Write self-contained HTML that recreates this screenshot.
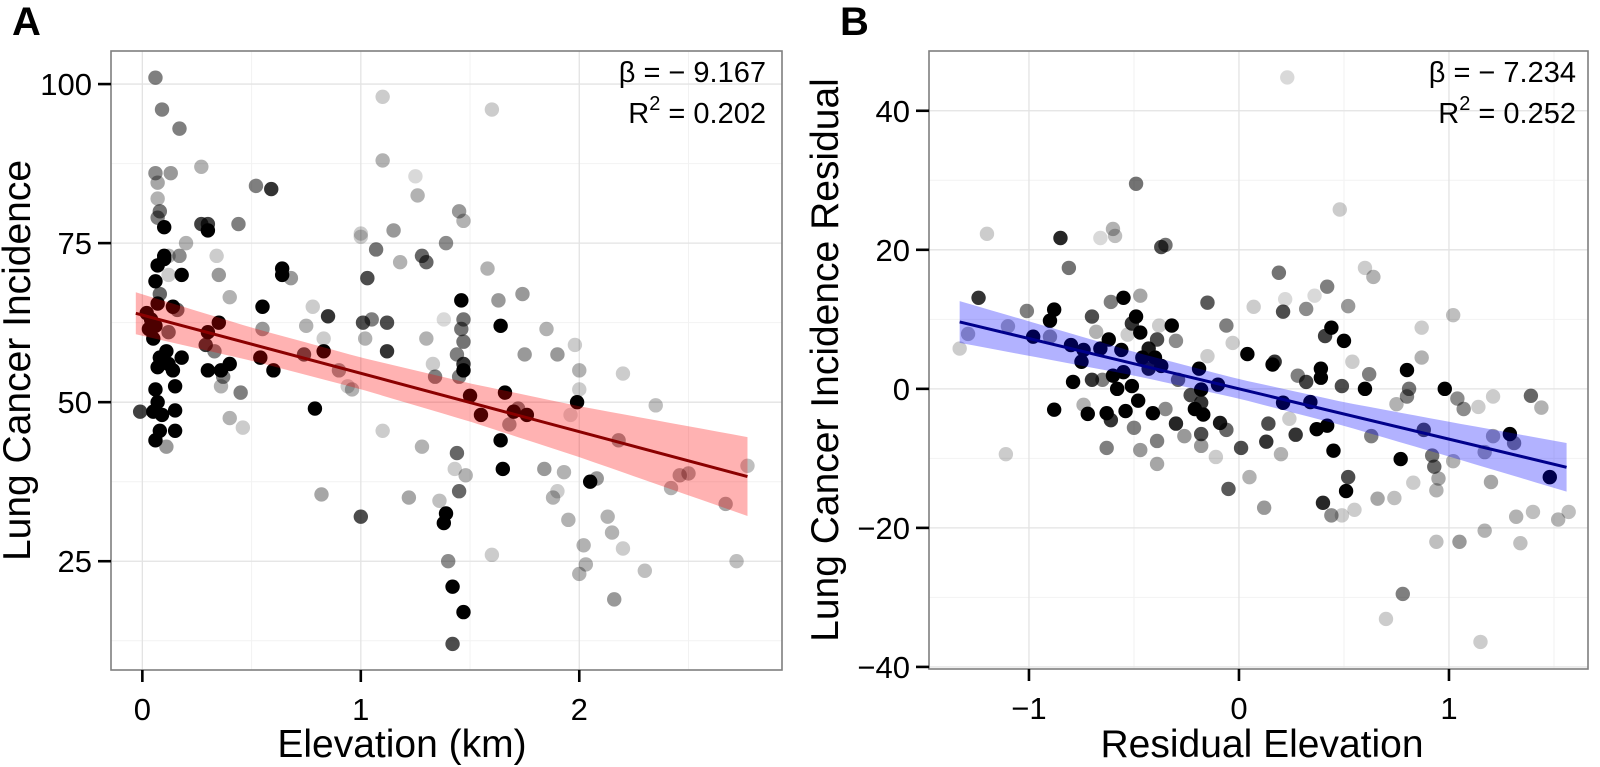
<!DOCTYPE html>
<html><head><meta charset="utf-8">
<style>
html,body{margin:0;padding:0;background:#fff;}
svg{display:block;font-family:"Liberation Sans",Arial,sans-serif;}
</style></head>
<body>
<svg id="fig" width="1600" height="767" viewBox="0 0 1600 767" xmlns="http://www.w3.org/2000/svg"></svg>
<script>
// ---------- Panel A data ----------
const aX=[0.06,0.09,0.17,0.06,0.13,0.07,0.07,0.08,0.07,0.1,0.12,0.1,0.1,0.07,0.06,0.08,0.07,0.12,0.16,0.02,0.04,0.06,0.03,0.12,0.05,0.11,0.08,0.07,0.12,0.06,0.07,0.05,0.09,-0.01,0.15,0.08,0.06,0.15,0.11,0.18,0.18,0.15,0.14,0.14,0.2,0.17,
0.27,0.3,0.3,0.34,0.27,0.44,0.52,0.59,0.35,0.4,0.3,0.35,0.3,0.36,0.4,0.33,0.4,0.29,0.37,0.36,0.45,0.46,0.55,0.54,0.55,0.6,0.64,0.64,0.68,0.79,0.75,0.74,0.83,0.83,0.85,0.82,0.9,0.78,0.94,0.96,
1.03,1.01,1.0,1.0,1.02,1.07,1.05,1.12,1.12,1.1,1.1,1.15,1.0,1.1,1.18,1.22,1.25,1.26,1.28,1.3,1.3,1.28,1.33,1.34,1.36,1.39,1.38,1.38,1.39,1.4,1.42,1.47,1.42,1.44,1.46,1.46,1.47,1.47,1.45,1.47,1.45,1.47,1.44,1.45,1.43,1.48,1.5,1.47,1.55,1.58,1.6,1.6,1.63,1.64,1.66,1.64,1.65,1.68,1.7,1.72,1.74,1.76,1.75,1.85,1.9,1.98,1.93,1.96,2.0,2.0,1.84,1.99,1.88,1.95,2.0,2.02,2.03,2.05,2.08,2.15,2.16,2.13,2.18,2.2,2.2,2.3,2.35,2.42,2.46,2.5,2.67,2.77,2.72,1.9];
const aY=[101,96,93,86,86,84.5,82,80,79,77.5,73,73,72.5,71.5,69,67,65.5,70,64.5,64,63,62,61.5,61,60,58,57,55.5,56,52,50,48.5,48,48.5,48.7,45.5,44,45.5,43,70,57,52.5,55,65,75,73,
87,78,77,73,78,78,84,83.5,70,66.5,61,62.5,55,55,56,58,47.5,59,54,52.5,51.5,46,65,57,61.5,55,70,71,69.5,49,62,57.5,60,58,63.5,35.5,55,65,52.5,52,
69.5,62.5,76,76.5,60,74,63,62.5,58,98,88,77,32,45.5,72,35,85.5,82.5,73,72,60,43,56,54,34.5,75,63,31,32.5,25,21,17,12,57.5,66,61.5,63,59.5,80,78.5,54,56,42,36,39.5,38.5,51,55,48,71,96,26,66,62,51.5,44,39.5,46.5,48.5,49,67,48,57.5,61.5,57.5,59,39,48,52,55,39.5,50,35,31.5,23,27.5,24.5,37.5,38,29.5,19,32,44,54.5,27,23.5,49.5,36.5,38.5,38.8,34,40,25,36];
const aAlpha=[.5,.5,.5,.45,.4,.35,.3,.55,.5,1,.3,1,1,1,1,.6,1,.2,.6,1,1,1,1,.6,1,1,1,1,1,1,1,1,1,.75,1,1,1,1,.4,1,1,1,1,1,.3,.45,
.3,.75,1,.2,.75,.5,.5,.8,.4,.3,1,1,1,1,1,.5,.3,.8,.5,.3,.5,.2,1,1,.4,1,1,1,.4,1,.3,.7,.2,1,.8,.35,.4,.2,.2,.3,
.7,.7,.2,.2,.3,.55,.5,.7,.8,.2,.3,.4,.7,.2,.3,.35,.15,.3,.6,.6,.3,.3,.2,.5,.25,.45,.15,1,1,.45,1,1,.7,.5,1,.55,.55,.55,.4,.3,.5,.8,.6,.6,.2,.3,1,1,1,.3,.2,.2,.4,1,1,1,1,.4,1,.5,.4,1,.4,.3,.4,.2,.3,.15,.2,.3,.4,1,.3,.3,.3,.3,.3,1,.4,.3,.4,.3,.4,.2,.2,.25,.25,.3,.35,.35,.35,.25,.25,.2];
const aSlope=-9.167, aIntercept=63.7, aFitRange=[-0.03,2.77];
const aBandX=[-0.03,0.5,1.0,1.5,2.0,2.77];
const aBandHalf=[3.3,2.6,2.5,3.0,4.0,6.2];
const aXTicks=[0,1,2], aXTickLabels=["0","1","2"];
const aYTicks=[25,50,75,100], aYTickLabels=["25","50","75","100"];

// ---------- Panel B data ----------
const bX=[-1.33,-1.29,-1.24,-1.2,-1.11,-1.1,-1.01,-0.98,-0.9,-0.88,-0.9,-0.88,-0.85,-0.81,-0.8,-0.79,-0.75,-0.74,-0.74,-0.72,-0.7,-0.7,-0.68,-0.66,-0.66,-0.65,-0.63,-0.63,-0.62,-0.61,-0.6,-0.59,-0.61,-0.6,-0.58,-0.56,-0.55,-0.55,-0.54,-0.53,-0.51,-0.5,-0.49,-0.51,-0.49,-0.47,-0.47,-0.48,-0.47,-0.46,-0.43,-0.43,-0.41,-0.4,-0.39,-0.39,-0.39,-0.38,-0.37,-0.37,-0.35,-0.35,-0.32,-0.3,-0.3,-0.29,-0.26,-0.23,-0.21,-0.19,-0.18,-0.18,-0.18,-0.17,-0.15,-0.15,-0.18,
0.23,0.48,0.19,-0.06,-0.03,0.07,0.21,0.22,0.32,0.36,0.42,0.52,0.6,0.64,1.02,0.87,0.04,-0.1,-0.09,-0.06,-0.11,-0.05,0.01,0.05,0.12,0.13,0.14,0.16,0.17,0.2,0.21,0.24,0.27,0.28,0.32,0.34,0.37,0.39,0.39,0.42,0.41,0.44,0.45,0.5,0.52,0.51,0.4,0.44,0.49,0.55,0.54,0.49,0.6,0.62,0.63,0.66,0.7,0.78,0.74,0.77,0.75,0.8,0.81,0.8,0.87,0.88,0.92,0.93,0.95,0.94,0.83,0.94,1.05,0.98,1.04,1.07,1.14,1.02,1.17,1.2,1.21,1.21,1.29,1.31,1.39,1.44,1.48,1.17,1.32,1.4,1.34,1.15,1.52,1.57];
const bY=[5.8,7.9,13.1,22.3,-9.4,9.0,11.2,7.5,9.8,11.4,7.5,-3.0,21.7,17.4,6.3,1.0,3.9,5.6,-2.3,-3.6,1.3,10.4,8.2,21.7,5.8,1.3,-3.5,-8.5,7.1,12.5,23.0,22.0,-4.5,1.9,0,5.6,2.4,13.1,-3.2,7.8,0.4,-5.6,10.4,9.4,29.5,13.4,8.1,-1.7,-8.8,4.5,2.9,5.8,-3.5,4.5,-10.8,-7.5,7.1,9.1,3.3,20.4,20.7,-2.9,9.1,-5.0,6.9,1.3,-6.8,-0.9,-2.9,2.9,-2.0,-0.1,-6.5,-3.7,12.4,4.7,-8.2,
44.8,25.8,16.7,9.1,6.6,11.8,11.1,12.9,11.5,13.4,14.7,11.9,17.4,16.1,10.6,8.8,5.0,0.6,-4.9,-5.9,-9.8,-14.4,-8.5,-12.7,-17.1,-7.6,-5.0,3.5,3.9,-9.4,-2.0,-4.3,-6.6,1.9,1.0,-1.9,-5.8,2.9,1.6,-5.3,7.6,8.8,-8.9,6.9,-12.7,-14.7,-16.4,-18.2,-18.2,-17.4,3.9,0.4,0,2.1,-6.8,-15.8,-33.1,-29.5,-15.7,-10.1,-2.2,2.7,0,-1.1,4.5,-5.9,-9.6,-11.2,-12.9,-14.6,-13.5,-22.0,-22.0,0,-1.4,-2.9,-2.6,-10.4,-9.1,-13.4,-6.8,-1.1,-6.5,-7.8,-1.0,-2.7,-12.7,-20.4,-18.4,-17.7,-22.2,-36.4,-18.8,-17.7];
const bAlpha=[.2,.3,.8,.2,.2,.3,.5,1,1,1,.4,1,.85,.55,1,1,1,1,.3,1,.8,.7,.3,.15,1,.5,1,.5,1,.5,.3,.25,.8,1,1,1,1,1,1,.2,1,.5,1,.8,.55,.35,1,1,.4,1,.9,.9,1,1,.35,.5,.7,.2,1,.7,.55,.45,1,.85,.45,.6,.4,.7,1,1,.8,1,.7,1,.65,.2,.4,
.15,.2,.55,.5,.2,.2,.7,.15,.45,.15,.5,.4,.2,.3,.25,.2,1,1,.9,.6,.2,.65,.7,.3,.4,.8,.7,1,.8,.3,1,.2,.8,.5,.75,1,1,1,1,1,.75,1,1,1,.7,1,.85,.45,.2,.2,.2,.7,1,.5,.5,.35,.2,.5,.25,1,.3,1,.55,.5,.3,.7,.55,.6,.35,.3,.2,.25,.4,1,.45,.45,.2,.3,.35,.35,.35,.2,1,.5,.6,.3,1,.3,.3,.25,.25,.2,.3,.25];
const bSlope=-7.234, bIntercept=0.0, bFitRange=[-1.33,1.56];
const bBandX=[-1.33,-0.5,0,0.5,1.0,1.56];
const bBandHalf=[3.0,1.7,1.4,1.7,2.5,3.5];
const bXTicks=[-1,0,1], bXTickLabels=["\u22121","0","1"];
const bYTicks=[-40,-20,0,20,40], bYTickLabels=["\u221240","\u221220","0","20","40"];

const NS="http://www.w3.org/2000/svg";
const svg=document.getElementById('fig');
function mk(tag,attrs,parent){const e=document.createElementNS(NS,tag);for(const k in attrs)e.setAttribute(k,attrs[k]);(parent||svg).appendChild(e);return e;}
function interp(xs,ys,x){if(x<=xs[0])return ys[0];for(let i=1;i<xs.length;i++){if(x<=xs[i]){const t=(x-xs[i-1])/(xs[i]-xs[i-1]);return ys[i-1]+t*(ys[i]-ys[i-1]);}}return ys[ys.length-1];}

function panel(cfg){
  const g=mk('g',{});
  
  
  const {L,R,T,B}=cfg;
  const sx=v=>L+(v-cfg.xd[0])/(cfg.xd[1]-cfg.xd[0])*(R-L);
  const sy=v=>B-(v-cfg.yd[0])/(cfg.yd[1]-cfg.yd[0])*(B-T);
  mk('rect',{x:L,y:T,width:R-L,height:B-T,fill:'#fff'},g);
  // minor grid
  cfg.xMinor.forEach(v=>{const l=mk('line',{x1:sx(v),x2:sx(v),y1:T,y2:B,stroke:'#f2f2f2','stroke-width':1},g);});
  cfg.yMinor.forEach(v=>{const l=mk('line',{x1:L,x2:R,y1:sy(v),y2:sy(v),stroke:'#f2f2f2','stroke-width':1},g);});
  cfg.xTicks.forEach(v=>{const l=mk('line',{x1:sx(v),x2:sx(v),y1:T,y2:B,stroke:'#e3e3e3','stroke-width':1.3},g);});
  cfg.yTicks.forEach(v=>{const l=mk('line',{x1:L,x2:R,y1:sy(v),y2:sy(v),stroke:'#e3e3e3','stroke-width':1.3},g);});
  // points
  for(let i=0;i<cfg.px.length;i++){
    const c=mk('circle',{cx:sx(cfg.px[i]),cy:sy(cfg.py[i]),r:7.2,fill:'#000','fill-opacity':cfg.pa[i]},g);
    
    
  }
  // band
  const n=40,up=[],lo=[];
  for(let k=0;k<=n;k++){const x=cfg.fr[0]+(cfg.fr[1]-cfg.fr[0])*k/n;const yc=cfg.ic+cfg.sl*x;const h=interp(cfg.bx,cfg.bh,x);up.push(sx(x)+','+sy(yc+h));lo.unshift(sx(x)+','+sy(yc-h));}
  const band=mk('polygon',{points:up.concat(lo).join(' '),fill:cfg.bandCol,'fill-opacity':0.3},g);
  
  
  const fl=mk('line',{x1:sx(cfg.fr[0]),y1:sy(cfg.ic+cfg.sl*cfg.fr[0]),x2:sx(cfg.fr[1]),y2:sy(cfg.ic+cfg.sl*cfg.fr[1]),stroke:cfg.lineCol,'stroke-width':3},g);
  
  
  const border=mk('rect',{x:L,y:T,width:R-L,height:B-T,fill:'none',stroke:'#7f7f7f','stroke-width':1.6},g);
  
  
  // ticks
  cfg.xTicks.forEach((v,i)=>{
    mk('line',{x1:sx(v),x2:sx(v),y1:B,y2:B+12,stroke:'#000','stroke-width':2.6},g);
    const t=mk('text',{x:sx(v),y:B+50,'text-anchor':'middle','font-size':31},g);t.textContent=cfg.xTickLabels[i];
    
  });
  cfg.yTicks.forEach((v,i)=>{
    mk('line',{x1:L-13,x2:L,y1:sy(v),y2:sy(v),stroke:'#000','stroke-width':2.6},g);
    const t=mk('text',{x:L-19,y:sy(v)+11,'text-anchor':'end','font-size':31},g);t.textContent=cfg.yTickLabels[i];
    
  });
  const xt=mk('text',{x:cfg.xTitleX,y:757,'text-anchor':'middle','font-size':39},g);xt.textContent=cfg.xTitle;
  
  const cy=(T+B)/2;
  const yt=mk('text',{x:cfg.yTitleX,y:cy,'text-anchor':'middle','font-size':39,transform:`rotate(-90 ${cfg.yTitleX} ${cy})`},g);yt.textContent=cfg.yTitle;
  
  // annotation
  const a1=mk('text',{x:cfg.annX,y:82,'text-anchor':'end','font-size':29},g);a1.textContent=cfg.beta;
  
  const a2=mk('text',{x:cfg.annX,y:123,'text-anchor':'end','font-size':29},g);
  
  const s1=mk('tspan',{},a2);s1.textContent='R';
  const s2=mk('tspan',{dy:-13,'font-size':20},a2);s2.textContent='2';
  const s3=mk('tspan',{dy:13},a2);s3.textContent=' = '+cfg.r2;
  const pl=mk('text',{x:cfg.labelX,y:35,'font-size':40,'font-weight':'bold'},g);pl.textContent=cfg.label;
  
}

panel({name:'panel-a',L:111,R:782,T:51,B:670,xd:[-0.1435,2.928],yd:[7.9,105.2],
  xTicks:aXTicks,xTickLabels:aXTickLabels,yTicks:aYTicks,yTickLabels:aYTickLabels,
  xMinor:[0.5,1.5,2.5],yMinor:[12.5,37.5,62.5,87.5],
  px:aX,py:aY,pa:aAlpha,sl:aSlope,ic:aIntercept,fr:aFitRange,bx:aBandX,bh:aBandHalf,
  bandCol:'#ff0000',lineCol:'#8b0000',xTitle:'Elevation (km)',xTitleX:402,
  yTitle:'Lung Cancer Incidence',yTitleX:30,annX:766,beta:'\u03B2 = \u2212 9.167',r2:'0.202',label:'A',labelX:12});

panel({name:'panel-b',L:929,R:1588,T:51,B:669,xd:[-1.476,1.662],yd:[-40.3,48.6],
  xTicks:bXTicks,xTickLabels:bXTickLabels,yTicks:bYTicks,yTickLabels:bYTickLabels,
  xMinor:[-0.5,0.5,1.5],yMinor:[-30,-10,10,30],
  px:bX,py:bY,pa:bAlpha,sl:bSlope,ic:bIntercept,fr:bFitRange,bx:bBandX,bh:bBandHalf,
  bandCol:'#0000ff',lineCol:'#00008b',xTitle:'Residual Elevation',xTitleX:1262,
  yTitle:'Lung Cancer Incidence Residual',yTitleX:838,annX:1576,beta:'\u03B2 = \u2212 7.234',r2:'0.252',label:'B',labelX:840});
</script>
</body></html>
